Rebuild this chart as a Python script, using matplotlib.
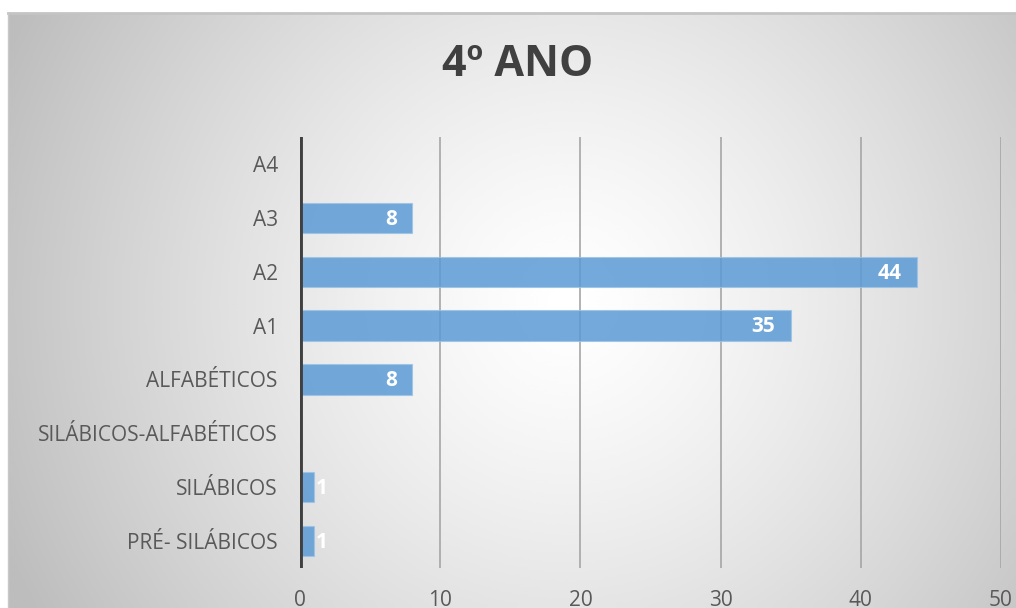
import numpy as np
import matplotlib
matplotlib.use("Agg")
import matplotlib.pyplot as plt

categories = ["PRÉ- SILÁBICOS", "SILÁBICOS", "SILÁBICOS-ALFABÉTICOS", "ALFABÉTICOS",
              "A1", "A2", "A3", "A4"]
values = [1, 1, 0, 8, 35, 44, 8, 0]
x_ticks = [0, 10, 20, 30, 40, 50]
title = "4º ANO"

BAR_COLOR = "#5B9BD5"
TEXT_GREY = "#595959"
GRID_GREY = "#A6A6A6"
FONT = ["Open Sans", "DejaVu Sans"]

plt.rcParams["font.family"] = FONT

fig = plt.figure(figsize=(10.16, 6.08), dpi=100, facecolor="white")

# radial gradient panel behind the chart
bg = fig.add_axes([8 / 1016, 0, 1 - 8 / 1016, 1 - 13 / 608], zorder=0)
gx, gy = np.meshgrid(np.linspace(0, 1008, 400), np.linspace(0, 595, 240))
r = np.hypot((gx - 560) / 620, (gy - 290) / 620)
shade = 1.0 - 0.26 * np.clip(r, 0, 1) ** 1.3
bg.imshow(shade, cmap="gray", vmin=0, vmax=1, aspect="auto",
          extent=[0, 1, 0, 1], interpolation="bicubic")
bg.set_axis_off()
fig.add_artist(plt.Line2D([8 / 1016, 1], [1 - 13 / 608] * 2, color="#C4C4C4", lw=2))
fig.add_artist(plt.Line2D([8 / 1016] * 2, [0, 1 - 13 / 608], color="#C8C8C8", lw=1))

ax = fig.add_axes([300 / 1016, 1 - 568 / 608, 701 / 1016, 431 / 608], zorder=1)
ax.patch.set_alpha(0)

y = np.arange(len(categories))
ax.barh(y, values, height=0.56, color=BAR_COLOR, alpha=0.85,
        edgecolor="#9DC3E6", linewidth=0.8, zorder=3)

for yi, v in zip(y, values):
    if v == 0:
        continue
    if v >= 3:
        ax.annotate(str(v), (v, yi), xytext=(-11, -1), textcoords="offset points",
                    ha="right", va="center", color="white", fontsize=15,
                    fontweight="bold", zorder=4)
    else:
        ax.annotate(str(v), (v, yi), xytext=(1, -1), textcoords="offset points",
                    ha="left", va="center", color="white", fontsize=15,
                    fontweight="bold", zorder=4)

ax.set_xlim(0, 50)
ax.set_ylim(-0.5, len(categories) - 0.5)
ax.set_xticks(x_ticks)
ax.set_yticks(y)
ax.set_yticklabels(categories)
ax.tick_params(axis="both", length=0, colors=TEXT_GREY, labelsize=15)
ax.tick_params(axis="y", pad=16)
ax.tick_params(axis="x", pad=16)
for s in ax.spines.values():
    s.set_visible(False)
ax.xaxis.grid(True, color=GRID_GREY, linewidth=1.2, zorder=1)
ax.axvline(0, color="#404040", linewidth=3.5, zorder=5)

fig.text(518 / 1016, 1 - 65 / 608, title, ha="center", va="center",
         fontsize=31, fontweight="bold", color="#404040")

fig.savefig("out.png", dpi=100, facecolor="white")
